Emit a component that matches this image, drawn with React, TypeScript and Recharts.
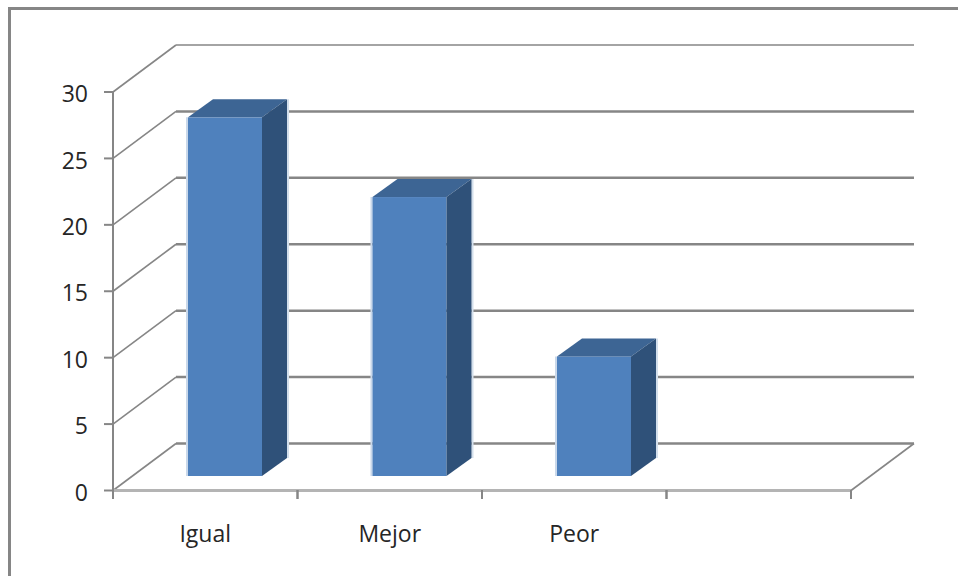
import { BarChart, Bar, XAxis, YAxis, CartesianGrid } from 'recharts';

const categories = ['Igual', 'Mejor', 'Peor', ''];
const values: (number | null)[] = [27, 21, 9, null];
const yTicks = [0, 5, 10, 15, 20, 25, 30];

const data = categories.map((name, i) => ({ name, value: values[i] }));

const FONT = '"Open Sans", sans-serif';
const GRID = '#868686';
const TEXT = '#262626';

// depth of the floor / back wall, and of the bars themselves
const WALL_DX = 63;
const WALL_DY = 47;
const BAR_DX = 25;
const BAR_DY = 18;
// bars stand in the middle of the floor, not on the front edge
const BAR_SHIFT_X = 20;
const BAR_SHIFT_Y = 14.5;

const STEP = 184.5;

// one gridline: diagonal up the side wall, then along the back wall
function WallLine({ x1, y1, x2, y2 }: any) {
  const isTop = y1 < 100;
  const isFloor = y1 > 480;
  return (
    <g fill="none" stroke={GRID}>
      <line x1={x1} y1={y1} x2={x1 + WALL_DX} y2={y1 - WALL_DY} strokeWidth={1.6} />
      <line x1={x1 + WALL_DX} y1={y1 - WALL_DY} x2={x2 + WALL_DX} y2={y2 - WALL_DY} strokeWidth={isTop ? 1.5 : 2.5} />
      {isFloor && <line x1={x2} y1={y2} x2={x2 + WALL_DX} y2={y2 - WALL_DY} strokeWidth={1.6} />}
    </g>
  );
}

function BoxBar({ x, y, width, height }: any) {
  if (!height) return null;
  const left = x + BAR_SHIFT_X;
  const top = y - BAR_SHIFT_Y;
  const right = left + width;
  const bottom = top + height;
  return (
    <g>
      {/* pale edge round the box */}
      <line x1={left - 1} y1={top} x2={left - 1} y2={bottom} stroke="#c9d8ea" strokeWidth={2} />
      <line x1={right + BAR_DX + 1} y1={top - BAR_DY} x2={right + BAR_DX + 1} y2={bottom - BAR_DY} stroke="#d3dfec" strokeWidth={2} />
      <rect x={left} y={top} width={width} height={height} fill="#4f81bd" />
      <polygon
        points={`${left},${top} ${left + BAR_DX},${top - BAR_DY} ${right + BAR_DX},${top - BAR_DY} ${right},${top}`}
        fill="#3d6594"
      />
      <polygon
        points={`${right},${top} ${right + BAR_DX},${top - BAR_DY} ${right + BAR_DX},${bottom - BAR_DY} ${right},${bottom}`}
        fill="#2f5179"
      />
    </g>
  );
}

// category label plus the tick marks on both band edges
function CategoryTick({ x, y, payload }: any) {
  return (
    <g>
      <line x1={x - STEP / 2} y1={490} x2={x - STEP / 2} y2={499} stroke={GRID} strokeWidth={2} />
      <line x1={x + STEP / 2} y1={490} x2={x + STEP / 2} y2={499} stroke={GRID} strokeWidth={2} />
      <text x={x} y={y + 43} textAnchor="middle" fontFamily={FONT} fontSize={23} fill={TEXT}>
        {payload.value}
      </text>
    </g>
  );
}

export default function App() {
  return (
    <div style={{ position: 'absolute', left: 0, top: 0, width: 958, height: 576, background: '#fff', overflow: 'hidden' }}>
      <div style={{ position: 'absolute', left: 8, top: 7, width: 960, height: 580, borderLeft: `3px solid ${GRID}`, borderTop: `3px solid ${GRID}` }} />
      <BarChart
        width={958}
        height={576}
        data={data}
        margin={{ top: 92, right: 107, bottom: 0, left: 0 }}
        barCategoryGap={0}
        style={{ position: 'absolute', left: 0, top: 0 }}
      >
        <CartesianGrid vertical={false} horizontal={(p: any) => <WallLine {...p} />} />
        <XAxis
          dataKey="name"
          interval={0}
          height={85.5}
          axisLine={{ stroke: '#b4b4b4', strokeWidth: 3 }}
          tickLine={false}
          tick={<CategoryTick />}
        />
        <YAxis
          domain={[0, 30]}
          ticks={yTicks}
          width={113}
          axisLine={{ stroke: GRID, strokeWidth: 2 }}
          tickLine={{ stroke: GRID, strokeWidth: 2 }}
          tickSize={9}
          tickMargin={16}
          tick={{ fontFamily: FONT, fontSize: 23, fill: TEXT, dy: 2 }}
        />
        <Bar dataKey="value" barSize={74} shape={<BoxBar />} isAnimationActive={false} />
      </BarChart>
    </div>
  );
}
